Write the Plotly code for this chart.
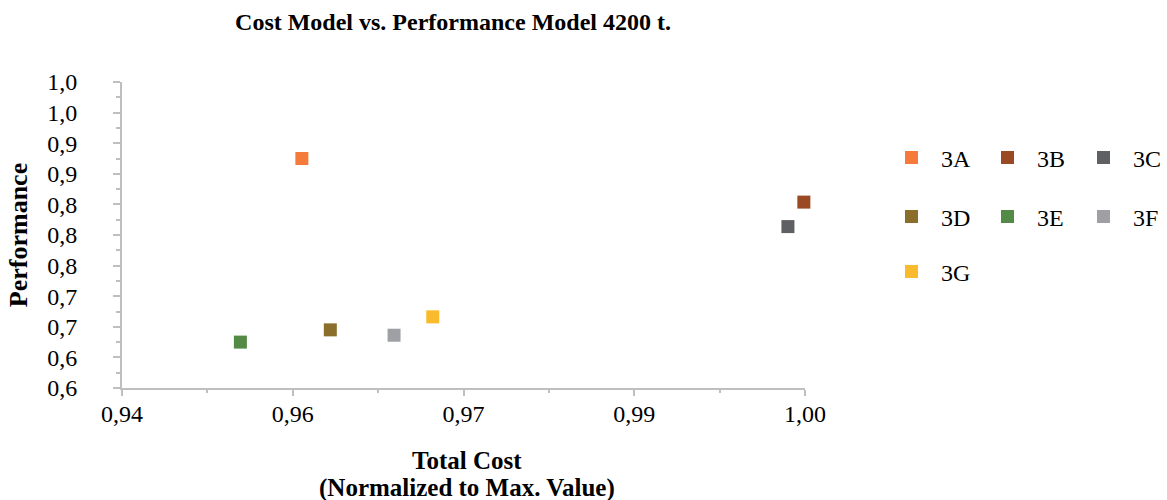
import plotly.graph_objects as go

# Design alternatives: normalized total cost vs. performance
designs = ["3A", "3B", "3C", "3D", "3E", "3F", "3G"]
total_cost = [0.9558, 0.9999, 0.9985, 0.9583, 0.9504, 0.9639, 0.9673]
performance = [0.900, 0.843, 0.811, 0.676, 0.660, 0.669, 0.693]
colors = ["#F47B39", "#9A4A23", "#5F6064", "#8B6E2C", "#538A45", "#9EA0A4", "#F9BA2B"]

# Axis ticks (labels are rounded like the source workbook's number format)
x_tickvals = [0.94, 0.955, 0.97, 0.985, 1.00]
x_ticktext = ["0,94", "0,96", "0,97", "0,99", "1,00"]
y_tickvals = [0.60, 0.64, 0.68, 0.72, 0.76, 0.80, 0.84, 0.88, 0.92, 0.96, 1.00]
y_ticktext = ["0,6", "0,6", "0,7", "0,7", "0,8", "0,8", "0,8", "0,9", "0,9", "1,0", "1,0"]

# x-axis title, one entry per line
x_title_lines = ["Total Cost", "(Normalized to Max. Value)"]

# legend rows: three entries per row
legend_rows = [["3A", "3B", "3C"], ["3D", "3E", "3F"], ["3G"]]
row_of = {d: i for i, row in enumerate(legend_rows) for d in row}
legend_ids = ["legend", "legend2", "legend3"]

FONT = "Liberation Serif, Times New Roman, serif"
AXIS_COLOR = "#BFBFBF"
W, H = 1167, 500
PLOT_L, PLOT_R, PLOT_T, PLOT_B = 122, 805, 82, 388

fig = go.Figure()
for name, x, y, c in zip(designs, total_cost, performance, colors):
    fig.add_trace(go.Scatter(
        x=[x], y=[y], name=name, mode="markers",
        marker=dict(symbol="square", size=13, color=c, line=dict(width=0)),
        cliponaxis=False,
        legend=legend_ids[row_of[name]],
    ))

legend_common = dict(
    orientation="h", xanchor="left", yanchor="middle",
    font=dict(family=FONT, size=24, color="#000000"),
    itemwidth=49, entrywidth=32, entrywidthmode="pixels",
    bgcolor="rgba(0,0,0,0)", tracegroupgap=0,
)
legend_left = 882
row_y = [158, 217, 272]
lx = (legend_left - PLOT_L) / (PLOT_R - PLOT_L)
def py_to_paper(py):
    return (PLOT_B - py) / (PLOT_B - PLOT_T)
def px_to_paper(px):
    return (px - PLOT_L) / (PLOT_R - PLOT_L)

# x-axis title lines set with Excel-like line spacing
x_title_y = [460, 488]
annotations = [
    dict(text=f"<b>{t}</b>", x=px_to_paper(467), y=py_to_paper(yy),
         xref="paper", yref="paper", xanchor="center", yanchor="middle",
         showarrow=False, font=dict(family=FONT, size=25, color="#000000"))
    for t, yy in zip(x_title_lines, x_title_y)
]

fig.update_layout(
    width=W, height=H,
    margin=dict(l=PLOT_L, r=W - PLOT_R, t=PLOT_T, b=H - PLOT_B, autoexpand=False),
    paper_bgcolor="white", plot_bgcolor="white",
    font=dict(family=FONT, size=24, color="#000000"),
    title=dict(
        text="<b>Cost Model vs. Performance Model 4200 t.</b>",
        font=dict(family=FONT, size=24, color="#000000"),
        x=453 / W, xanchor="center", y=1 - 22 / H, yanchor="middle",
    ),
    legend=dict(legend_common, x=lx, y=py_to_paper(row_y[0])),
    legend2=dict(legend_common, x=lx, y=py_to_paper(row_y[1])),
    legend3=dict(legend_common, x=lx, y=py_to_paper(row_y[2])),
    showlegend=True,
    annotations=annotations,
)

fig.update_xaxes(
    range=[0.94, 1.00], tickvals=x_tickvals, ticktext=x_ticktext,
    showgrid=False, zeroline=False, automargin=False,
    showline=True, linecolor=AXIS_COLOR, linewidth=2,
    ticks="outside", ticklen=6, tickwidth=2, tickcolor=AXIS_COLOR,
    minor=dict(ticks="outside", ticklen=3, tickwidth=2, tickcolor=AXIS_COLOR,
               tickvals=[0.9475, 0.9625, 0.9775, 0.9925]),
    ticklabelstandoff=-3,
    tickfont=dict(family=FONT, size=24),
)
fig.update_yaxes(
    range=[0.60, 1.00], tickvals=y_tickvals, ticktext=y_ticktext,
    showgrid=False, zeroline=False, automargin=False,
    showline=True, linecolor=AXIS_COLOR, linewidth=2,
    ticks="outside", ticklen=7, tickwidth=2, tickcolor=AXIS_COLOR,
    minor=dict(ticks="outside", ticklen=4, tickwidth=2, tickcolor=AXIS_COLOR,
               tickvals=[0.62, 0.66, 0.70, 0.74, 0.78, 0.82, 0.86, 0.90, 0.94, 0.98]),
    ticklabelstandoff=31,
    tickfont=dict(family=FONT, size=24),
    title=dict(text="<b>Performance</b>", font=dict(family=FONT, size=26), standoff=12),
)

fig.write_html("out.html")
